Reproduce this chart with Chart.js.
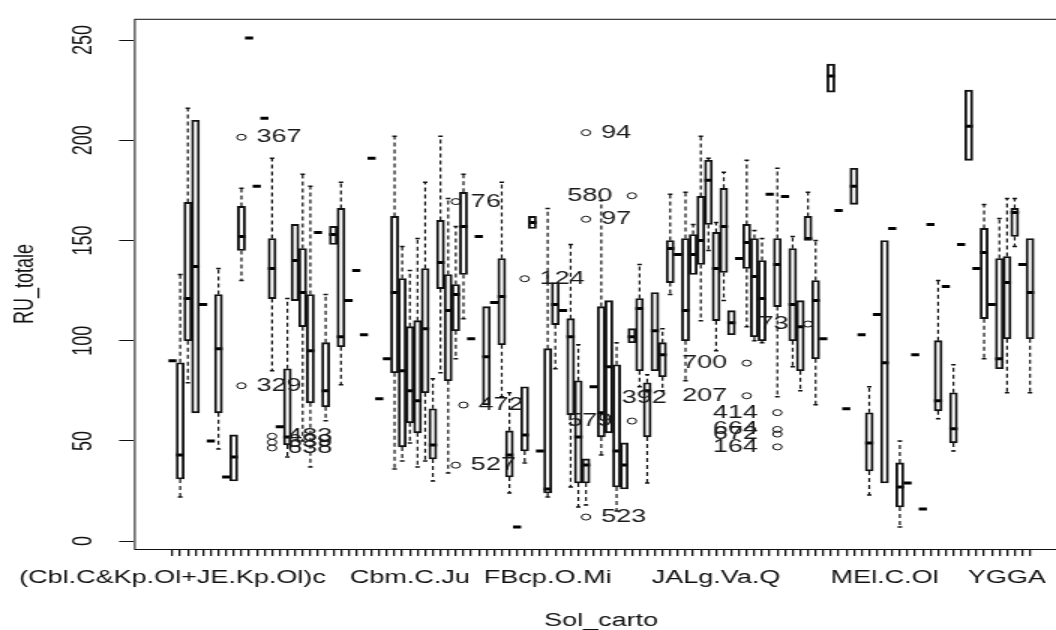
<!DOCTYPE html>
<html lang="fr">
<head>
<meta charset="utf-8">
<title>RU_totale par Sol_carto</title>
<script src="https://cdn.jsdelivr.net/npm/chart.js@4.4.1/dist/chart.umd.min.js"></script>
<style>
html, body { margin: 0; padding: 0; background: #fff; overflow: hidden; width: 1056px; height: 630px; }
/* the reference is an R plot stretched 1.5x sideways, so draw narrow and stretch */
#wrap { width: 720px; height: 630px; transform: scaleX(1.5); transform-origin: 0 0; }
canvas { display: block; }
</style>
</head>
<body>
<div id="wrap"><canvas id="canvas" width="720" height="630"></canvas></div>
<script>
// soil classes on the x axis: only these names are printed (113 classes in total)
var xLabelPos  = [1, 32, 50, 72, 94, 110];
var xLabelText = ['(Cbl.C&Kp.Ol+JE.Kp.Ol)c', 'Cbm.C.Ju', 'FBcp.O.Mi', 'JALg.Va.Q', 'MEl.C.Ol', 'YGGA'];
var yTicks = [0, 50, 100, 150, 200, 250];

// five numbers per class, class 1..113
var whiskLow  = [90,22,79,64,118,50,46,32,30,130,251,177,211,85,57,42,120,50,37,154,
                 60,148,78,120,135,103,191,71,91,36,40,49,37,40,30,84,34,91,111,101,
                 152,68,119,72,24,7,39,156,45,22,86,115,27,17,18,77,43,54,15,26,
                 99,77,29,85,75,123,143,80,133,110,145,95,120,103,141,107,100,99,173,72,
                 172,87,75,150,68,101,224,165,66,168,103,23,113,29,156,7,29,93,16,158,
                 61,127,45,148,190,136,91,118,86,74,147,138,74];
var boxQ1     = [90,31,100,64,118,50,64,32,30,145,251,177,211,121,57,48,120,107,69,154,
                 67,148,97,120,135,103,191,71,91,84,47,59,54,74,41,126,80,105,133,101,
                 152,68,119,98,32,7,45,156,45,24,108,115,63,29,29,77,52,54,27,26,
                 99,85,52,85,82,129,143,100,133,138,158,110,134,103,141,136,102,100,173,117,
                 172,100,85,150,91,101,224,165,66,168,103,35,113,29,156,17,29,93,16,158,
                 65,127,49,148,190,136,111,118,86,101,152,138,101];
var boxMed    = [90,43,121,137,118,50,96,32,42,152,251,177,211,136,57,52,140,124,95,154,
                 75,153,102,120,135,103,191,71,91,124,85,75,70,106,48,139,115,123,157,101,
                 152,92,119,122,43,7,53,159,45,26,118,115,102,52,38,77,64,87,45,38,
                 102,116,75,105,93,146,143,115,143,150,180,136,157,109,141,149,132,121,173,138,
                 172,118,107,151,120,101,232,165,66,177,103,49,113,89,156,27,29,93,16,158,
                 70,127,56,148,207,136,144,118,91,129,164,138,124];
var boxQ3     = [90,89,169,210,118,50,123,32,53,167,251,177,211,151,57,86,158,146,123,154,
                 99,157,166,120,135,103,191,71,91,162,131,107,110,136,66,160,133,128,174,101,
                 152,117,119,141,55,7,77,162,45,96,129,115,111,80,41,77,117,120,88,49,
                 106,121,79,124,99,150,143,151,153,172,190,154,176,115,141,158,151,140,173,151,
                 172,146,120,162,130,101,238,165,66,186,103,64,113,150,156,39,29,93,16,158,
                 100,127,74,148,225,136,156,118,141,142,166,138,151];
var whiskHigh = [90,133,216,210,118,50,136,32,53,176,251,177,211,191,57,121,158,183,177,154,
                 123,157,179,120,135,103,191,71,91,202,147,135,151,179,81,202,171,157,183,101,
                 152,117,119,179,74,7,77,162,45,166,129,115,148,98,41,77,170,120,99,49,
                 106,138,83,124,106,173,143,174,158,202,191,159,184,115,141,190,155,151,173,186,
                 172,152,120,174,150,101,238,165,66,186,103,77,113,150,156,50,29,93,16,158,
                 130,127,88,148,225,136,168,118,161,171,171,138,151];

// outliers (class, value)
var outCat = [10, 10, 14, 14, 14, 38, 38, 39, 47, 55, 55, 55, 61, 61, 76, 76, 80, 80, 80, 80, 84];
var outVal = [201.5, 77.5, 52.3, 49.3, 46.5, 169.4, 37.9, 67.9, 130.9, 203.8, 160.6, 12,
              172.3, 59.9, 88.8, 72.5, 64.1, 55.7, 53.4, 47, 108.3];

// identified points: text, class, value, side of the point
var idText = ['367','329','483','639','638','76','527','472','124','94','97','523',
              '580','579','392','700','207','414','664','672','164','73'];
var idCat  = [10,10,14,14,14,38,38,39,47,55,55,55,61,61,63,76,76,80,80,80,80,84];
var idVal  = [201.5,77.5,52.3,49.3,46.5,169.4,37.9,67.9,130.9,203.8,160.6,12,
              172.3,59.9,71.5,88.8,72.5,64.1,55.7,53.4,47,108.3];
var idSide = ['r','r','r','r','r','r','r','r','r','r','r','r',
              'l','l','c','l','l','l','l','l','l','l'];

var ink = '#111';
var font = '"Liberation Sans", Arial, sans-serif';
Chart.defaults.font.family = font;
Chart.defaults.color = ink;

// build the plotting tables
var nCat = boxMed.length;
var catNums = [];
var boxData = [], medData = [], whiskData = [], stapleData = [], outData = [];
for (var i = 0; i < nCat; i++) {
    var x = i + 1;
    catNums.push(x);
    if (boxQ3[i] > boxQ1[i]) boxData.push({x: x, y: [boxQ1[i], boxQ3[i]]});
    medData.push({x: x, y: boxMed[i]});
    if (whiskHigh[i] > boxQ3[i]) {
        whiskData.push({x: x, y: boxQ3[i]}, {x: x, y: whiskHigh[i]}, {x: x, y: null});
        stapleData.push({x: x, y: whiskHigh[i]});
    }
    if (whiskLow[i] < boxQ1[i]) {
        whiskData.push({x: x, y: boxQ1[i]}, {x: x, y: whiskLow[i]}, {x: x, y: null});
        stapleData.push({x: x, y: whiskLow[i]});
    }
}
for (var j = 0; j < outCat.length; j++) outData.push({x: outCat[j], y: outVal[j]});

// box around the plot region
var framePlugin = {
    id: 'frame',
    afterDraw: function(chart) {
        var a = chart.chartArea, c = chart.ctx;
        c.save();
        c.strokeStyle = ink;
        c.lineWidth = 1;
        c.strokeRect(a.left + 0.5, a.top + 0.5, a.right - a.left, a.bottom - a.top);
        c.restore();
    }
};

// numbers written next to identified points
var idPlugin = {
    id: 'idLabels',
    afterDatasetsDraw: function(chart) {
        var c = chart.ctx, xs = chart.scales.x, ys = chart.scales.y;
        c.save();
        c.font = '18px ' + font;
        c.fillStyle = '#1a1a1a';
        c.textBaseline = 'middle';
        for (var k = 0; k < idText.length; k++) {
            var px = xs.getPixelForValue(idCat[k]);
            var py = ys.getPixelForValue(idVal[k]);
            if (idSide[k] === 'r') { c.textAlign = 'left'; px += 10; }
            else if (idSide[k] === 'l') { c.textAlign = 'right'; px -= 13; }
            else { c.textAlign = 'center'; px -= 2; }
            c.fillText(idText[k], px, py);
        }
        c.restore();
    }
};

var ctx = document.getElementById('canvas').getContext('2d');
new Chart(ctx, {
    type: 'bar',
    data: {
        datasets: [
            { type: 'line', data: whiskData, borderColor: ink, borderWidth: 1.2, borderDash: [4, 3],
              pointRadius: 0, spanGaps: false, fill: false, tension: 0 },
            { type: 'bar', data: boxData, backgroundColor: 'rgba(0,0,0,0)', borderColor: ink,
              borderWidth: 1.2, borderSkipped: false, barThickness: 5.2 },
            { type: 'scatter', data: stapleData, pointStyle: 'line', pointRadius: 1.5,
              pointBorderWidth: 1.5, pointBorderColor: ink, borderColor: ink },
            { type: 'scatter', data: medData, pointStyle: 'line', pointRadius: 2.7,
              pointBorderWidth: 3, pointBorderColor: '#000', borderColor: '#000' },
            { type: 'scatter', data: outData, pointStyle: 'circle', pointRadius: 3,
              pointBorderWidth: 1, pointBorderColor: ink, pointBackgroundColor: 'rgba(0,0,0,0)',
              borderColor: ink }
        ]
    },
    options: {
        responsive: false,
        animation: false,
        events: [],
        devicePixelRatio: 1,
        layout: { autoPadding: false, padding: { top: 12, right: 7.7, left: 0, bottom: 0 } },
        plugins: { legend: { display: false }, tooltip: { enabled: false } },
        scales: {
            x: {
                type: 'linear', min: 0.5 - 0.04 * 113, max: 113.5 + 0.04 * 113, bounds: 'data',
                offset: false,
                afterBuildTicks: function(s) { s.ticks = catNums.map(function(v) { return {value: v}; }); },
                afterFit: function(s) { s.height = 81; s.paddingLeft = 0; s.paddingRight = 0; },
                grid: { display: true, offset: false, drawOnChartArea: false, tickLength: 7, color: ink, lineWidth: 1.3 },
                border: { display: false },
                ticks: {
                    autoSkip: false, minRotation: 0, maxRotation: 0, padding: 11, color: ink,
                    font: { size: 18 },
                    callback: function(v) {
                        var k = xLabelPos.indexOf(v);
                        return k >= 0 ? xLabelText[k] : '';
                    }
                },
                title: { display: true, text: 'Sol_carto', color: ink, font: { size: 18, lineHeight: 1 },
                         padding: { top: 0, bottom: 0 } }
            },
            y: {
                type: 'linear', min: -3.94, max: 260.6,
                afterBuildTicks: function(s) { s.ticks = yTicks.map(function(v) { return {value: v}; }); },
                afterFit: function(s) { s.width = 89.4; },
                grid: { drawOnChartArea: false, tickLength: 10, color: ink, lineWidth: 1 },
                border: { display: false },
                ticks: { minRotation: 90, maxRotation: 90, crossAlign: 'center', padding: 8, color: ink,
                         font: { size: 18 } },
                title: { display: true, text: 'RU_totale', color: ink, font: { size: 18, lineHeight: 1 },
                         padding: { top: 7.7, bottom: 0 } }
            }
        }
    },
    plugins: [framePlugin, idPlugin]
});
</script>
</body>
</html>
